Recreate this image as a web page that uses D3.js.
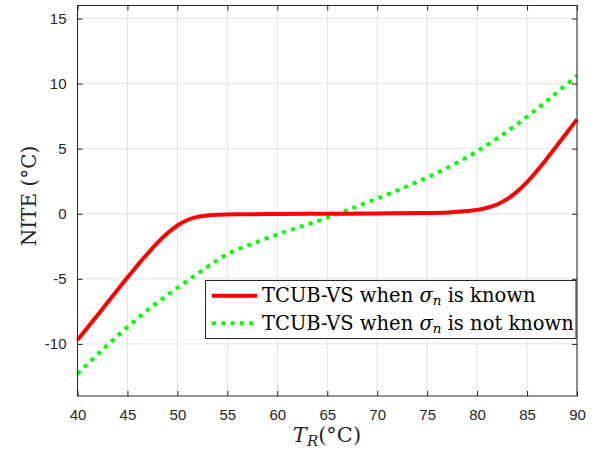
<!DOCTYPE html>
<html>
<head>
<meta charset="utf-8">
<script src="https://cdn.jsdelivr.net/npm/d3@7"></script>
<style>
  html, body { margin: 0; padding: 0; background: #fff; }
  svg { display: block; }
</style>
</head>
<body>
<svg id="chart" width="596" height="453"></svg>
<script>
// ---- data ----
const knownT = [40, 42, 44, 45, 46, 47, 48, 49, 50, 51, 52, 53, 54, 56, 60, 65, 70, 75, 77, 78, 79, 80, 81, 82, 83, 84, 85, 86, 87, 88, 89, 90];
const knownV = [-9.7, -7.8, -5.85, -4.9, -3.97, -3.07, -2.23, -1.5, -0.9, -0.48, -0.24, -0.13, -0.08, -0.04, -0.02, 0.0, 0.02, 0.06, 0.1, 0.15, 0.22, 0.3, 0.46, 0.71, 1.12, 1.7, 2.43, 3.3, 4.25, 5.25, 6.25, 7.25];
const unknownT = [40, 42.5, 45, 47.5, 50, 52.5, 55, 57.5, 60, 62.5, 65, 67.5, 70, 72.5, 75, 77.5, 80, 82.5, 85, 87.5, 90];
const unknownV = [-12.3, -10.45, -8.7, -7.1, -5.7, -4.35, -3.1, -2.3, -1.6, -0.95, -0.3, 0.42, 1.17, 1.95, 2.78, 3.72, 4.8, 6.05, 7.45, 9.0, 10.6];
const xTicks = [40, 45, 50, 55, 60, 65, 70, 75, 80, 85, 90];
const yTicks = [-10, -5, 0, 5, 10, 15];
const xDomain = [40, 90];
const yDomain = [-14, 16];

// ---- layout ----
const svg = d3.select("#chart");
const L = 77.5, R = 577, T = 5.5, B = 396;
const x = d3.scaleLinear().domain(xDomain).range([L, R]);
const y = d3.scaleLinear().domain(yDomain).range([B, T]);
const axisColor = "#262626";
const gridColor = "#e3e3e3";

// grid
const grid = svg.append("g");
grid.selectAll("line.gx").data(xTicks).join("line")
  .attr("x1", d => x(d)).attr("x2", d => x(d)).attr("y1", T).attr("y2", B)
  .attr("stroke", gridColor).attr("stroke-width", 1);
grid.selectAll("line.gy").data(yTicks).join("line")
  .attr("y1", d => y(d)).attr("y2", d => y(d)).attr("x1", L).attr("x2", R)
  .attr("stroke", gridColor).attr("stroke-width", 1);

// lines
const knownData = knownT.map((t, i) => [t, knownV[i]]);
const unknownData = unknownT.map((t, i) => [t, unknownV[i]]);
const line = d3.line().x(d => x(d[0])).y(d => y(d[1])).curve(d3.curveCatmullRom.alpha(0.5));

svg.append("path").datum(unknownData)
  .attr("d", line).attr("fill", "none")
  .attr("stroke", "#00ff00").attr("stroke-width", 4)
  .attr("stroke-dasharray", "4 5.3");
svg.append("path").datum(knownData)
  .attr("d", line).attr("fill", "none")
  .attr("stroke", "#ff0000").attr("stroke-width", 4)
  .attr("stroke-linejoin", "round");

// axes
const tickLen = 5;
const fontSans = "'Liberation Sans', Arial, Helvetica, sans-serif";
const fmt = d => String(d);
const xAxis = d3.axisBottom(x).tickValues(xTicks).tickFormat(fmt).tickSizeInner(-tickLen).tickSizeOuter(0).tickPadding(13);
const yAxis = d3.axisLeft(y).tickValues(yTicks).tickFormat(fmt).tickSizeInner(-tickLen).tickSizeOuter(0).tickPadding(11);
const xTop = d3.axisTop(x).tickValues(xTicks).tickSizeInner(-tickLen).tickSizeOuter(0).tickFormat("");
const yRight = d3.axisRight(y).tickValues(yTicks).tickSizeInner(-tickLen).tickSizeOuter(0).tickFormat("");

function styleAxis(g) {
  g.select(".domain").remove();
  g.selectAll("line").attr("stroke", axisColor).attr("stroke-width", 1);
  g.selectAll("text").attr("fill", axisColor).style("font-family", fontSans).style("font-size", "15px");
}
svg.append("g").attr("transform", `translate(0,${B})`).call(xAxis).call(styleAxis);
svg.append("g").attr("transform", `translate(${L},0)`).call(yAxis).call(styleAxis);
svg.append("g").attr("transform", `translate(0,${T})`).call(xTop).call(styleAxis);
svg.append("g").attr("transform", `translate(${R},0)`).call(yRight).call(styleAxis);

svg.append("rect").attr("x", L).attr("y", T).attr("width", R - L).attr("height", B - T)
  .attr("fill", "none").attr("stroke", axisColor).attr("stroke-width", 1);

// axis labels
const fontSerif = "'DejaVu Serif', 'Liberation Serif', serif";
const xl = svg.append("text").attr("x", 327).attr("y", 442).attr("text-anchor", "middle")
  .style("font-family", fontSerif).style("font-size", "21px").attr("fill", axisColor);
xl.append("tspan").style("font-style", "italic").text("T");
xl.append("tspan").style("font-style", "italic").style("font-size", "15px").attr("dy", 4).text("R");
xl.append("tspan").attr("dy", -4).text("(°C)");

svg.append("text").attr("transform", "translate(36,196) rotate(-90)")
  .attr("text-anchor", "middle")
  .style("font-family", fontSerif).style("font-size", "20px").attr("fill", axisColor)
  .text("NITE (°C)");

// legend
const lg = svg.append("g");
lg.append("rect").attr("x", 205.5).attr("y", 280.5).attr("width", 370.5).attr("height", 58)
  .attr("fill", "#fff").attr("stroke", axisColor).attr("stroke-width", 1);
const legendItems = [
  { color: "#ff0000", dash: null, pre: "TCUB-VS when ", post: " is known", yy: 295.7 },
  { color: "#00ff00", dash: "4 5.3", pre: "TCUB-VS when ", post: " is not known", yy: 323.3 }
];
legendItems.forEach(it => {
  lg.append("line").attr("x1", 212).attr("x2", 257).attr("y1", it.yy).attr("y2", it.yy)
    .attr("stroke", it.color).attr("stroke-width", 4)
    .attr("stroke-dasharray", it.dash);
  const t = lg.append("text").attr("x", 262).attr("y", it.yy + 6.5)
    .style("font-family", fontSerif).style("font-size", "19.5px").attr("fill", "#000");
  t.append("tspan").text(it.pre);
  t.append("tspan").style("font-style", "italic").text("σ");
  t.append("tspan").style("font-style", "italic").style("font-size", "13.5px").attr("dy", 3).text("n");
  t.append("tspan").attr("dy", -3).text(it.post);
});
</script>
</body>
</html>
